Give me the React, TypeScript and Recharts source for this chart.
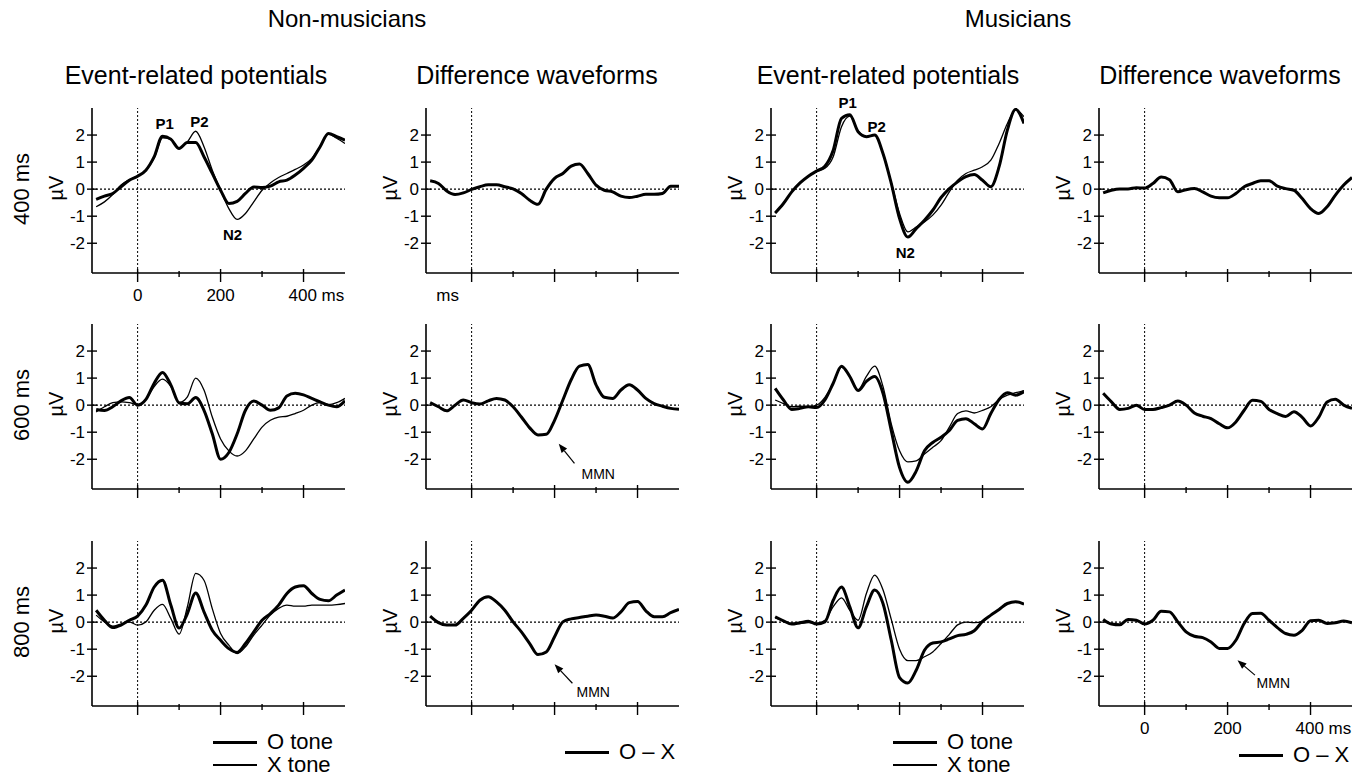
// ERP grid: Non-musicians vs Musicians, three SOA rows, ERPs and O–X difference waves.
import { LineChart, Line, XAxis, YAxis, ReferenceLine, ReferenceDot } from "recharts";

const FONT = "'Liberation Sans', Arial, Helvetica, sans-serif";

// Time axis (ms), shared by every waveform.
const TIME = [
  -100, -80, -60, -40, -20, 0, 20, 40, 60, 80, 100, 120, 140, 160, 180, 200, 220, 240, 260, 280,
  300, 320, 340, 360, 380, 400, 420, 440, 460, 480, 500,
];

// Non-musicians, 400 ms
const NM400_O = [-0.38, -0.26, -0.16, 0.09, 0.33, 0.48, 0.7, 1.2, 1.96, 1.85, 1.5, 1.72, 1.72, 1.2, 0.58, -0.04, -0.53, -0.45, -0.16, 0.08, 0.06, 0.11, 0.27, 0.33, 0.52, 0.77, 1.07, 1.57, 2.06, 1.94, 1.81];
const NM400_X = [-0.65, -0.47, -0.2, 0.15, 0.35, 0.48, 0.7, 1.15, 1.9, 1.85, 1.5, 1.75, 2.14, 1.57, 0.7, -0.04, -0.72, -1.12, -0.9, -0.47, -0.04, 0.23, 0.43, 0.58, 0.73, 0.89, 1.14, 1.57, 2.04, 1.88, 1.69];
const NM400_D = [0.31, 0.21, -0.07, -0.2, -0.14, -0.01, 0.09, 0.16, 0.16, 0.09, 0.01, -0.16, -0.41, -0.56, 0.0, 0.4, 0.58, 0.85, 0.93, 0.58, 0.15, -0.04, -0.1, -0.26, -0.31, -0.26, -0.19, -0.19, -0.16, 0.11, 0.11];
// Musicians, 400 ms
const MU400_O = [-0.88, -0.53, -0.1, 0.23, 0.48, 0.67, 0.85, 1.44, 2.62, 2.75, 2.12, 1.94, 2.0, 1.32, 0.21, -1.09, -1.77, -1.46, -1.15, -0.78, -0.31, 0.02, 0.27, 0.46, 0.54, 0.33, 0.09, 0.83, 2.19, 2.95, 2.43];
const MU400_X = [-0.88, -0.53, -0.1, 0.23, 0.48, 0.65, 0.77, 1.2, 2.31, 2.7, 2.15, 1.94, 2.0, 1.32, 0.25, -0.9, -1.58, -1.4, -1.21, -0.96, -0.59, -0.1, 0.33, 0.58, 0.7, 0.83, 1.07, 1.69, 2.43, 2.93, 2.68];
const MU400_D = [-0.14, -0.04, 0.01, 0.01, 0.05, 0.04, 0.21, 0.45, 0.35, -0.1, -0.02, 0.02, -0.1, -0.26, -0.32, -0.32, -0.16, 0.09, 0.21, 0.31, 0.31, 0.11, 0.02, -0.04, -0.35, -0.72, -0.9, -0.65, -0.22, 0.15, 0.43];

// Non-musicians, 600 ms
const NM600_O = [-0.16, -0.2, -0.06, 0.16, 0.28, 0.0, 0.21, 0.81, 1.21, 0.75, 0.08, 0.05, 0.28, -0.19, -1.06, -2.0, -1.75, -1.06, -0.19, 0.15, 0.0, -0.19, -0.1, 0.34, 0.44, 0.38, 0.25, 0.12, 0.0, -0.06, 0.16];
const NM600_X = [-0.25, -0.06, 0.09, 0.12, 0.09, 0.02, 0.21, 0.69, 0.96, 0.69, 0.1, 0.31, 1.0, 0.56, -0.44, -1.25, -1.69, -1.88, -1.69, -1.25, -0.81, -0.56, -0.44, -0.41, -0.31, -0.19, 0.0, 0.09, 0.02, 0.09, 0.25];
const NM600_D = [0.09, -0.06, -0.21, 0.0, 0.19, 0.09, 0.04, 0.16, 0.25, 0.19, -0.06, -0.44, -0.84, -1.1, -1.08, -0.56, 0.19, 0.94, 1.44, 1.5, 0.75, 0.29, 0.25, 0.56, 0.75, 0.56, 0.25, 0.06, -0.04, -0.12, -0.15];
// Musicians, 600 ms
const MU600_O = [0.62, 0.19, -0.16, -0.12, -0.06, -0.09, 0.19, 0.81, 1.44, 1.06, 0.54, 0.88, 1.06, 0.44, -0.94, -2.31, -2.85, -2.44, -1.69, -1.38, -1.19, -0.94, -0.56, -0.5, -0.69, -0.88, -0.31, 0.21, 0.46, 0.37, 0.5];
const MU600_X = [0.19, 0.06, -0.06, -0.04, -0.06, 0.0, 0.29, 0.81, 1.41, 1.06, 0.56, 1.06, 1.44, 0.69, -0.69, -1.69, -2.1, -2.06, -1.81, -1.56, -1.31, -0.81, -0.31, -0.21, -0.29, -0.19, -0.06, 0.21, 0.37, 0.46, 0.54];
const MU600_D = [0.44, 0.12, -0.16, -0.12, 0.0, -0.16, -0.16, -0.09, 0.0, 0.15, 0.0, -0.29, -0.41, -0.5, -0.69, -0.84, -0.62, -0.19, 0.18, 0.14, -0.16, -0.31, -0.42, -0.24, -0.45, -0.77, -0.44, 0.12, 0.22, 0.0, -0.12];

// Non-musicians, 800 ms
const NM800_O = [0.44, 0.07, -0.2, -0.11, 0.07, 0.22, 0.63, 1.3, 1.55, 0.63, -0.22, 0.32, 1.08, 0.38, -0.3, -0.67, -0.98, -1.12, -0.79, -0.36, 0.07, 0.32, 0.63, 1.06, 1.3, 1.35, 1.06, 0.84, 0.79, 1.0, 1.19];
const NM800_X = [0.26, 0.01, -0.15, -0.07, 0.01, -0.11, 0.01, 0.44, 0.66, 0.14, -0.44, 0.57, 1.8, 1.55, 0.5, -0.42, -0.85, -1.16, -0.91, -0.48, -0.11, 0.26, 0.51, 0.63, 0.59, 0.59, 0.63, 0.63, 0.63, 0.65, 0.69];
const NM800_D = [0.22, -0.02, -0.11, -0.11, 0.14, 0.44, 0.81, 0.94, 0.75, 0.44, 0.01, -0.36, -0.79, -1.2, -1.1, -0.54, 0.01, 0.12, 0.17, 0.22, 0.26, 0.22, 0.15, 0.38, 0.72, 0.76, 0.42, 0.2, 0.2, 0.35, 0.47];
// Musicians, 800 ms
const MU800_O = [0.2, 0.05, -0.07, -0.02, 0.03, -0.07, 0.01, 0.81, 1.3, 0.57, -0.21, 0.57, 1.19, 0.69, -0.67, -2.05, -2.25, -1.78, -1.04, -0.77, -0.73, -0.62, -0.5, -0.45, -0.32, 0.03, 0.26, 0.47, 0.69, 0.75, 0.67];
const MU800_X = [0.16, 0.05, -0.05, -0.05, -0.02, -0.05, 0.07, 0.57, 0.9, 0.44, 0.07, 1.06, 1.74, 1.2, 0.1, -1.0, -1.42, -1.42, -1.28, -1.1, -0.79, -0.45, -0.1, 0.0, -0.02, 0.03, 0.26, 0.47, 0.69, 0.75, 0.67];
const MU800_D = [0.1, -0.07, -0.1, 0.1, 0.07, -0.07, 0.07, 0.4, 0.38, 0.01, -0.36, -0.52, -0.57, -0.73, -0.97, -0.97, -0.67, -0.05, 0.32, 0.33, 0.07, -0.2, -0.42, -0.48, -0.3, 0.05, 0.07, -0.05, -0.02, 0.04, -0.02];

const X_TICKS = [0, 100, 200, 300, 400];
const Y_TICKS = [-2, -1, 0, 1, 2];
const X_DOMAIN: [number, number] = [-110, 500];
const Y_DOMAIN: [number, number] = [-3.1, 3];

const GROUPS = ["Non-musicians", "Musicians"];
const COLUMN_TITLES = ["Event-related potentials", "Difference waveforms", "Event-related potentials", "Difference waveforms"];
const ROW_TITLES = ["400 ms", "600 ms", "800 ms"];

// Layout (px)
const PLOT_W = 253;
const PLOT_H = 165;
const AXIS_W = 40;
const AXIS_H = 40;
const TOP_M = 20;
const RIGHT_M = 10;
const COL_X = [92, 426, 771, 1099];
const ROW_Y = [108, 324, 541];

type Note =
  | { kind: "peak"; text: string; x: number; y: number }
  | { kind: "mmn"; x: number; y: number; tail: [number, number]; tip: [number, number] };

type Panel = {
  row: number;
  col: number;
  o: number[];
  x?: number[];
  xLabels?: "full" | "ms";
  notes: Note[];
};

const PANELS: Panel[] = [
  {
    row: 0, col: 0, o: NM400_O, x: NM400_X, xLabels: "full",
    notes: [
      { kind: "peak", text: "P1", x: 65, y: 2.44 },
      { kind: "peak", text: "P2", x: 149, y: 2.48 },
      { kind: "peak", text: "N2", x: 229, y: -1.67 },
    ],
  },
  { row: 0, col: 1, o: NM400_D, xLabels: "ms", notes: [] },
  {
    row: 0, col: 2, o: MU400_O, x: MU400_X,
    notes: [
      { kind: "peak", text: "P1", x: 75, y: 3.19 },
      { kind: "peak", text: "P2", x: 145, y: 2.33 },
      { kind: "peak", text: "N2", x: 214, y: -2.33 },
    ],
  },
  { row: 0, col: 3, o: MU400_D, notes: [] },
  { row: 1, col: 0, o: NM600_O, x: NM600_X, notes: [] },
  {
    row: 1, col: 1, o: NM600_D,
    notes: [{ kind: "mmn", x: 265, y: -2.53, tail: [248, -2.15], tip: [210, -1.43] }],
  },
  { row: 1, col: 2, o: MU600_O, x: MU600_X, notes: [] },
  { row: 1, col: 3, o: MU600_D, notes: [] },
  { row: 2, col: 0, o: NM800_O, x: NM800_X, notes: [] },
  {
    row: 2, col: 1, o: NM800_D,
    notes: [{ kind: "mmn", x: 253, y: -2.59, tail: [243, -2.26], tip: [200, -1.56] }],
  },
  { row: 2, col: 2, o: MU800_O, x: MU800_X, notes: [] },
  {
    row: 2, col: 3, o: MU800_D, xLabels: "full",
    notes: [{ kind: "mmn", x: 270, y: -2.26, tail: [266, -1.96], tip: [224, -1.41] }],
  },
];

function YTick(props: any) {
  const { x, y, payload } = props;
  return (
    <g>
      <line x1={x - 5} x2={x + 5} y1={y} y2={y} stroke="#000" strokeWidth={1.4} />
      <text x={x - 7} y={y} dy="0.36em" textAnchor="end" fontSize={17} fontFamily={FONT} fill="#000">
        {payload.value}
      </text>
    </g>
  );
}

function makeXTick(mode?: "full" | "ms") {
  return (props: any) => {
    const { x, y, payload } = props;
    const v = payload.value as number;
    const major = v % 200 === 0;
    return (
      <g>
        <line x1={x} x2={x} y1={y - (major ? 4 : 2)} y2={y + (major ? 9 : 4)} stroke="#000" strokeWidth={1.4} />
        {mode === "full" && major && v !== 400 && (
          <text x={x} y={y + 28} textAnchor="middle" fontSize={17} fontFamily={FONT} fill="#000">{v}</text>
        )}
        {mode === "full" && v === 400 && (
          <text x={x - 15} y={y + 28} textAnchor="start" fontSize={17} fontFamily={FONT} fill="#000">400 ms</text>
        )}
        {mode === "ms" && v === 0 && (
          <text x={x - 24} y={y + 28} textAnchor="middle" fontSize={17} fontFamily={FONT} fill="#000">ms</text>
        )}
      </g>
    );
  };
}

function Arrow(props: any) {
  const { x1, y1, x2, y2 } = props;
  const ang = Math.atan2(y2 - y1, x2 - x1);
  const len = 9;
  const half = 3.5;
  const bx = x2 - len * Math.cos(ang);
  const by = y2 - len * Math.sin(ang);
  const px = -Math.sin(ang) * half;
  const py = Math.cos(ang) * half;
  return (
    <g>
      <line x1={x1} y1={y1} x2={bx} y2={by} stroke="#000" strokeWidth={1.2} />
      <polygon points={`${x2},${y2} ${bx + px},${by + py} ${bx - px},${by - py}`} fill="#000" />
    </g>
  );
}

function renderNote(n: Note, i: number) {
  if (n.kind === "peak") {
    return (
      <ReferenceDot
        key={i}
        x={n.x}
        y={n.y}
        r={0}
        ifOverflow="visible"
        shape={(p: any) => (
          <text x={p.cx} y={p.cy} dy="0.36em" textAnchor="middle" fontWeight="bold" fontSize={15} fontFamily={FONT} fill="#000">
            {n.text}
          </text>
        )}
      />
    );
  }
  return [
    <ReferenceLine
      key={`a${i}`}
      segment={[{ x: n.tail[0], y: n.tail[1] }, { x: n.tip[0], y: n.tip[1] }]}
      ifOverflow="visible"
      shape={(p: any) => <Arrow {...p} />}
    />,
    <ReferenceDot
      key={`t${i}`}
      x={n.x}
      y={n.y}
      r={0}
      ifOverflow="visible"
      shape={(p: any) => (
        <text x={p.cx} y={p.cy} dy="0.36em" textAnchor="start" fontSize={14} fontFamily={FONT} fill="#000">
          MMN
        </text>
      )}
    />,
  ];
}

function PanelChart({ panel }: { panel: Panel }) {
  const data = TIME.map((t, i) => ({ t, o: panel.o[i], x: panel.x ? panel.x[i] : undefined }));
  return (
    <div style={{ position: "absolute", left: COL_X[panel.col] - AXIS_W, top: ROW_Y[panel.row] - TOP_M }}>
      <LineChart
        width={AXIS_W + PLOT_W + RIGHT_M}
        height={TOP_M + PLOT_H + AXIS_H}
        data={data}
        margin={{ top: TOP_M, right: RIGHT_M, bottom: 0, left: 0 }}
      >
        <XAxis
          dataKey="t"
          type="number"
          domain={X_DOMAIN}
          ticks={X_TICKS}
          interval={0}
          allowDataOverflow
          height={AXIS_H}
          tickSize={0}
          tickMargin={0}
          tickLine={false}
          axisLine={{ stroke: "#000", strokeWidth: 1.6 }}
          tick={makeXTick(panel.xLabels)}
        />
        <YAxis
          type="number"
          domain={Y_DOMAIN}
          ticks={Y_TICKS}
          interval={0}
          allowDataOverflow
          width={AXIS_W}
          tickSize={0}
          tickMargin={0}
          tickLine={false}
          axisLine={{ stroke: "#000", strokeWidth: 1.6 }}
          tick={(p: any) => <YTick {...p} />}
        />
        <ReferenceLine y={0} stroke="#000" strokeWidth={1.2} strokeDasharray="2 2" />
        <ReferenceLine x={0} stroke="#000" strokeWidth={1} strokeDasharray="2 2" />
        {panel.x && (
          <Line dataKey="x" type="monotone" stroke="#000" strokeWidth={1.3} dot={false} activeDot={false} isAnimationActive={false} />
        )}
        <Line dataKey="o" type="monotone" stroke="#000" strokeWidth={3} dot={false} activeDot={false} isAnimationActive={false} />
        {panel.notes.map(renderNote)}
      </LineChart>
    </div>
  );
}

const abs = (left: number, top: number, extra: React.CSSProperties = {}): React.CSSProperties => ({
  position: "absolute",
  left,
  top,
  whiteSpace: "nowrap",
  ...extra,
});

function Rotated({ cx, cy, size, children }: { cx: number; cy: number; size: number; children: React.ReactNode }) {
  return (
    <div style={abs(cx, cy, { fontSize: size, lineHeight: 1, transform: "translate(-50%, -50%) rotate(-90deg)" })}>
      {children}
    </div>
  );
}

function Centered({ cx, cy, size, children }: { cx: number; cy: number; size: number; children: React.ReactNode }) {
  return (
    <div style={abs(cx, cy, { fontSize: size, lineHeight: 1, transform: "translate(-50%, -50%)" })}>{children}</div>
  );
}

function LegendRow({ x, y, thick, label }: { x: number; y: number; thick: boolean; label: string }) {
  return (
    <>
      <div style={abs(x, y - (thick ? 1.5 : 0.7), { width: 44, height: thick ? 3 : 1.3, background: "#000" })} />
      <div style={abs(x + 54, y, { fontSize: 22, lineHeight: 1, transform: "translateY(-50%)" })}>{label}</div>
    </>
  );
}

export default function App() {
  const zeroY = ROW_Y.map((t) => t + PLOT_H * (Y_DOMAIN[1] / (Y_DOMAIN[1] - Y_DOMAIN[0])));
  return (
    <div style={{ position: "absolute", left: 0, top: 0, width: 1370, height: 781, background: "#fff", fontFamily: FONT, color: "#000" }}>
      <Centered cx={347} cy={19} size={24}>{GROUPS[0]}</Centered>
      <Centered cx={1018} cy={19} size={24}>{GROUPS[1]}</Centered>
      {[196, 537, 888, 1220].map((cx, i) => (
        <Centered key={i} cx={cx} cy={75} size={25}>{COLUMN_TITLES[i]}</Centered>
      ))}
      {ROW_TITLES.map((t, r) => (
        <Rotated key={t} cx={22} cy={zeroY[r]} size={22}>{t}</Rotated>
      ))}
      {ROW_Y.map((_, r) =>
        COL_X.map((cx, c) => (
          <Rotated key={`${r}-${c}`} cx={cx - 36} cy={zeroY[r] - 1} size={20}>µV</Rotated>
        ))
      )}
      {PANELS.map((p) => (
        <PanelChart key={`${p.row}-${p.col}`} panel={p} />
      ))}
      <LegendRow x={213} y={742} thick label="O tone" />
      <LegendRow x={213} y={765} thick={false} label="X tone" />
      <LegendRow x={893} y={742} thick label="O tone" />
      <LegendRow x={893} y={765} thick={false} label="X tone" />
      <LegendRow x={565} y={752} thick label="O – X" />
      <LegendRow x={1239} y={755} thick label="O – X" />
    </div>
  );
}
